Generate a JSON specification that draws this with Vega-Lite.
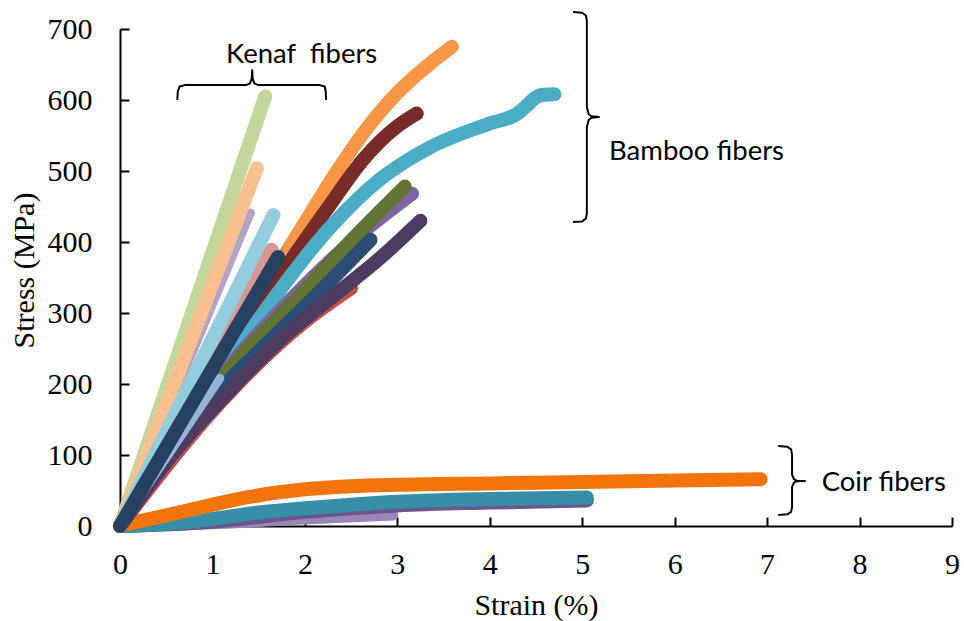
{
  "$schema": "https://vega.github.io/schema/vega-lite/v6.json",
  "width": 832,
  "height": 497,
  "autosize": {"type": "none"},
  "padding": {"left": 120, "top": 29, "right": 12, "bottom": 95},
  "background": "white",
  "config": {"view": {"stroke": null}},
  "datasets": {
    "curves": [
      {"s": "Coir 4", "x": 0.15, "y": 0}, {"s": "Coir 4", "x": 1, "y": 3}, {"s": "Coir 4", "x": 2, "y": 10}, {"s": "Coir 4", "x": 2.95, "y": 15.5},
      {"s": "Coir 3", "x": 0.05, "y": 0}, {"s": "Coir 3", "x": 1, "y": 6}, {"s": "Coir 3", "x": 2, "y": 20}, {"s": "Coir 3", "x": 3, "y": 29}, {"s": "Coir 3", "x": 4, "y": 33}, {"s": "Coir 3", "x": 5.05, "y": 36},
      {"s": "Coir 2", "x": 0.03, "y": 0}, {"s": "Coir 2", "x": 0.5, "y": 3}, {"s": "Coir 2", "x": 1, "y": 10}, {"s": "Coir 2", "x": 1.5, "y": 19}, {"s": "Coir 2", "x": 2, "y": 25}, {"s": "Coir 2", "x": 2.5, "y": 30}, {"s": "Coir 2", "x": 3, "y": 34}, {"s": "Coir 2", "x": 4, "y": 38}, {"s": "Coir 2", "x": 5.05, "y": 40},
      {"s": "Coir 1", "x": 0.08, "y": 3}, {"s": "Coir 1", "x": 0.5, "y": 15}, {"s": "Coir 1", "x": 0.9, "y": 27}, {"s": "Coir 1", "x": 1.4, "y": 41}, {"s": "Coir 1", "x": 1.95, "y": 51}, {"s": "Coir 1", "x": 2.5, "y": 56}, {"s": "Coir 1", "x": 3, "y": 58}, {"s": "Coir 1", "x": 4, "y": 60}, {"s": "Coir 1", "x": 5, "y": 62}, {"s": "Coir 1", "x": 6, "y": 64}, {"s": "Coir 1", "x": 6.93, "y": 66},
      {"s": "Bamboo 8", "x": 0, "y": 0}, {"s": "Bamboo 8", "x": 1, "y": 162}, {"s": "Bamboo 8", "x": 2, "y": 288}, {"s": "Bamboo 8", "x": 2.5, "y": 335},
      {"s": "Bamboo 1", "x": 0, "y": 0}, {"s": "Bamboo 1", "x": 0.5, "y": 108}, {"s": "Bamboo 1", "x": 1, "y": 215}, {"s": "Bamboo 1", "x": 1.5, "y": 322}, {"s": "Bamboo 1", "x": 2.06, "y": 440}, {"s": "Bamboo 1", "x": 2.31, "y": 492}, {"s": "Bamboo 1", "x": 2.63, "y": 553}, {"s": "Bamboo 1", "x": 3.0, "y": 610}, {"s": "Bamboo 1", "x": 3.35, "y": 651}, {"s": "Bamboo 1", "x": 3.59, "y": 675},
      {"s": "Bamboo 2", "x": 0, "y": 0}, {"s": "Bamboo 2", "x": 0.5, "y": 105}, {"s": "Bamboo 2", "x": 1, "y": 210}, {"s": "Bamboo 2", "x": 1.5, "y": 305}, {"s": "Bamboo 2", "x": 1.73, "y": 351}, {"s": "Bamboo 2", "x": 2.27, "y": 452}, {"s": "Bamboo 2", "x": 2.63, "y": 516}, {"s": "Bamboo 2", "x": 3.0, "y": 563}, {"s": "Bamboo 2", "x": 3.21, "y": 581},
      {"s": "Bamboo 3", "x": 0, "y": 0}, {"s": "Bamboo 3", "x": 0.5, "y": 100}, {"s": "Bamboo 3", "x": 1, "y": 195}, {"s": "Bamboo 3", "x": 1.55, "y": 300}, {"s": "Bamboo 3", "x": 2.27, "y": 420}, {"s": "Bamboo 3", "x": 2.81, "y": 488}, {"s": "Bamboo 3", "x": 3.35, "y": 533}, {"s": "Bamboo 3", "x": 4.0, "y": 567}, {"s": "Bamboo 3", "x": 4.3, "y": 581}, {"s": "Bamboo 3", "x": 4.4, "y": 592}, {"s": "Bamboo 3", "x": 4.48, "y": 602}, {"s": "Bamboo 3", "x": 4.56, "y": 607}, {"s": "Bamboo 3", "x": 4.7, "y": 608},
      {"s": "Bamboo 4", "x": 0, "y": 0}, {"s": "Bamboo 4", "x": 0.5, "y": 102}, {"s": "Bamboo 4", "x": 1, "y": 195}, {"s": "Bamboo 4", "x": 1.87, "y": 322}, {"s": "Bamboo 4", "x": 2.5, "y": 400}, {"s": "Bamboo 4", "x": 3.16, "y": 468},
      {"s": "Bamboo 5", "x": 0, "y": 0}, {"s": "Bamboo 5", "x": 0.5, "y": 100}, {"s": "Bamboo 5", "x": 1.19, "y": 221}, {"s": "Bamboo 5", "x": 2, "y": 332}, {"s": "Bamboo 5", "x": 2.5, "y": 402}, {"s": "Bamboo 5", "x": 3.08, "y": 478},
      {"s": "Bamboo 6", "x": 0, "y": 0}, {"s": "Bamboo 6", "x": 0.5, "y": 92}, {"s": "Bamboo 6", "x": 1, "y": 180}, {"s": "Bamboo 6", "x": 1.55, "y": 252}, {"s": "Bamboo 6", "x": 2.2, "y": 335}, {"s": "Bamboo 6", "x": 2.71, "y": 403},
      {"s": "Bamboo 7", "x": 0, "y": 0}, {"s": "Bamboo 7", "x": 0.5, "y": 90}, {"s": "Bamboo 7", "x": 1.19, "y": 191}, {"s": "Bamboo 7", "x": 1.73, "y": 262}, {"s": "Bamboo 7", "x": 2.27, "y": 320}, {"s": "Bamboo 7", "x": 2.81, "y": 377}, {"s": "Bamboo 7", "x": 3.25, "y": 430},
      {"s": "Kenaf 7", "x": 0, "y": 0}, {"s": "Kenaf 7", "x": 1.08, "y": 208},
      {"s": "Kenaf 3", "x": 0, "y": 0}, {"s": "Kenaf 3", "x": 1.41, "y": 441},
      {"s": "Kenaf 1", "x": 0, "y": 0}, {"s": "Kenaf 1", "x": 1.57, "y": 605},
      {"s": "Kenaf 2", "x": 0, "y": 0}, {"s": "Kenaf 2", "x": 1.48, "y": 504},
      {"s": "Kenaf 5", "x": 0, "y": 0}, {"s": "Kenaf 5", "x": 1.64, "y": 389},
      {"s": "Kenaf 4", "x": 0, "y": 0}, {"s": "Kenaf 4", "x": 1.66, "y": 438},
      {"s": "Kenaf 6", "x": 0, "y": 0}, {"s": "Kenaf 6", "x": 1.71, "y": 379}
    ],
    "braces": [
      {"b": "Bamboo", "x": 4.90, "y": 724}, {"b": "Bamboo", "x": 5.00, "y": 723}, {"b": "Bamboo", "x": 5.04, "y": 719}, {"b": "Bamboo", "x": 5.05, "y": 712}, {"b": "Bamboo", "x": 5.05, "y": 590}, {"b": "Bamboo", "x": 5.07, "y": 580}, {"b": "Bamboo", "x": 5.10, "y": 577}, {"b": "Bamboo", "x": 5.18, "y": 576}, {"b": "Bamboo", "x": 5.10, "y": 575}, {"b": "Bamboo", "x": 5.07, "y": 572}, {"b": "Bamboo", "x": 5.05, "y": 562}, {"b": "Bamboo", "x": 5.05, "y": 440}, {"b": "Bamboo", "x": 5.04, "y": 433}, {"b": "Bamboo", "x": 5.00, "y": 429}, {"b": "Bamboo", "x": 4.90, "y": 428},
      {"b": "Coir", "x": 7.12, "y": 112.7}, {"b": "Coir", "x": 7.22, "y": 111.5}, {"b": "Coir", "x": 7.26, "y": 108}, {"b": "Coir", "x": 7.27, "y": 100}, {"b": "Coir", "x": 7.27, "y": 72}, {"b": "Coir", "x": 7.29, "y": 66}, {"b": "Coir", "x": 7.32, "y": 63.8}, {"b": "Coir", "x": 7.41, "y": 63.4}, {"b": "Coir", "x": 7.32, "y": 63}, {"b": "Coir", "x": 7.29, "y": 61}, {"b": "Coir", "x": 7.27, "y": 55}, {"b": "Coir", "x": 7.27, "y": 27}, {"b": "Coir", "x": 7.26, "y": 20}, {"b": "Coir", "x": 7.22, "y": 16.5}, {"b": "Coir", "x": 7.12, "y": 15.5},
      {"b": "Kenaf", "x": 0.62, "y": 600}, {"b": "Kenaf", "x": 0.625, "y": 612}, {"b": "Kenaf", "x": 0.645, "y": 619}, {"b": "Kenaf", "x": 0.70, "y": 621}, {"b": "Kenaf", "x": 1.36, "y": 621}, {"b": "Kenaf", "x": 1.405, "y": 623}, {"b": "Kenaf", "x": 1.425, "y": 630}, {"b": "Kenaf", "x": 1.43, "y": 642}, {"b": "Kenaf", "x": 1.435, "y": 630}, {"b": "Kenaf", "x": 1.455, "y": 623}, {"b": "Kenaf", "x": 1.50, "y": 621}, {"b": "Kenaf", "x": 2.16, "y": 621}, {"b": "Kenaf", "x": 2.215, "y": 619}, {"b": "Kenaf", "x": 2.225, "y": 612}, {"b": "Kenaf", "x": 2.23, "y": 600}
    ],
    "labels": [
      {"t": "Kenaf\u00a0 fibers", "x": 1.147, "y": 663},
      {"t": "Bamboo fibers", "x": 5.29, "y": 527},
      {"t": "Coir fibers", "x": 7.59, "y": 61}
    ]
  },
  "encoding": {
    "x": {
      "field": "x", "type": "quantitative",
      "scale": {"domain": [0, 9], "nice": false, "zero": false},
      "axis": {
        "values": [0, 1, 2, 3, 4, 5, 6, 7, 8, 9],
        "title": "Strain (%)",
        "grid": false,
        "tickSize": -9, "tickWidth": 2, "tickColor": "black",
        "domainColor": "black", "domainWidth": 2,
        "labelFont": "Liberation Serif", "labelFontSize": 30, "labelColor": "black",
        "labelBaseline": "alphabetic", "labelPadding": 56, "labelFlush": false, "labelOverlap": false,
        "titleFont": "Liberation Serif", "titleFontSize": 30, "titleFontWeight": "normal", "titleColor": "black",
        "titleBaseline": "alphabetic", "titleY": 88
      }
    },
    "y": {
      "field": "y", "type": "quantitative",
      "scale": {"domain": [0, 700], "nice": false},
      "axis": {
        "values": [0, 100, 200, 300, 400, 500, 600, 700],
        "title": "Stress (MPa)",
        "grid": false,
        "tickSize": -9, "tickWidth": 2, "tickColor": "black",
        "domainColor": "black", "domainWidth": 2,
        "labelFont": "Liberation Serif", "labelFontSize": 30, "labelColor": "black",
        "labelPadding": 37, "labelFlush": false, "labelOverlap": false,
        "titleFont": "Liberation Serif", "titleFontSize": 30, "titleFontWeight": "normal", "titleColor": "black",
        "titleX": -96, "titleY": 241, "titleBaseline": "middle", "titleAlign": "center", "titleAngle": 270
      }
    }
  },
  "layer": [
    {
      "data": {"name": "curves"},
      "transform": [{"filter": {"field": "s", "oneOf": ["Coir 4"]}}],
      "mark": {"type": "line", "strokeWidth": 11, "strokeCap": "round", "strokeJoin": "round", "interpolate": "monotone"},
      "encoding": {"color": {"field": "s", "type": "nominal", "legend": null,
        "scale": {"domain": ["Kenaf 1", "Kenaf 2", "Kenaf 3", "Kenaf 4", "Kenaf 5", "Kenaf 6", "Kenaf 7", "Bamboo 1", "Bamboo 2", "Bamboo 3", "Bamboo 4", "Bamboo 5", "Bamboo 6", "Bamboo 7", "Bamboo 8", "Coir 1", "Coir 2", "Coir 3", "Coir 4"],
          "range": ["#c3d69b", "#fac090", "#b3a2c7", "#93cddd", "#d99694", "#254061", "#95b3d7", "#f79646", "#772c2a", "#4bacc6", "#8064a2", "#617433", "#2c4d75", "#4d3b61", "#c0504d", "#f3740b", "#378ea7", "#69578e", "#9b84b6"]}}}
    },
    {
      "data": {"name": "curves"},
      "transform": [{"filter": {"field": "s", "oneOf": ["Coir 3", "Coir 2", "Coir 1", "Bamboo 8", "Bamboo 1", "Bamboo 2", "Bamboo 3", "Bamboo 4", "Bamboo 5", "Bamboo 6", "Bamboo 7"]}}],
      "mark": {"type": "line", "strokeWidth": 14, "strokeCap": "round", "strokeJoin": "round", "interpolate": "monotone"},
      "encoding": {"color": {"field": "s", "type": "nominal", "legend": null}}
    },
    {
      "data": {"name": "curves"},
      "transform": [{"filter": {"field": "s", "oneOf": ["Kenaf 7", "Kenaf 3"]}}],
      "mark": {"type": "line", "strokeWidth": 9, "strokeCap": "round", "strokeJoin": "round"},
      "encoding": {"color": {"field": "s", "type": "nominal", "legend": null}}
    },
    {
      "data": {"name": "curves"},
      "transform": [{"filter": {"field": "s", "oneOf": ["Kenaf 1", "Kenaf 2", "Kenaf 5", "Kenaf 4", "Kenaf 6"]}}],
      "mark": {"type": "line", "strokeWidth": 14, "strokeCap": "round", "strokeJoin": "round"},
      "encoding": {"color": {"field": "s", "type": "nominal", "legend": null}}
    },
    {
      "data": {"name": "braces"},
      "mark": {"type": "line", "strokeWidth": 2, "color": "black", "strokeJoin": "round", "clip": false},
      "encoding": {"detail": {"field": "b", "type": "nominal"}, "order": {"value": null}}
    },
    {
      "data": {"name": "labels"},
      "mark": {"type": "text", "font": "Lato", "fontSize": 27.5, "align": "left", "baseline": "middle", "color": "black"},
      "encoding": {"text": {"field": "t", "type": "nominal"}}
    }
  ]
}
